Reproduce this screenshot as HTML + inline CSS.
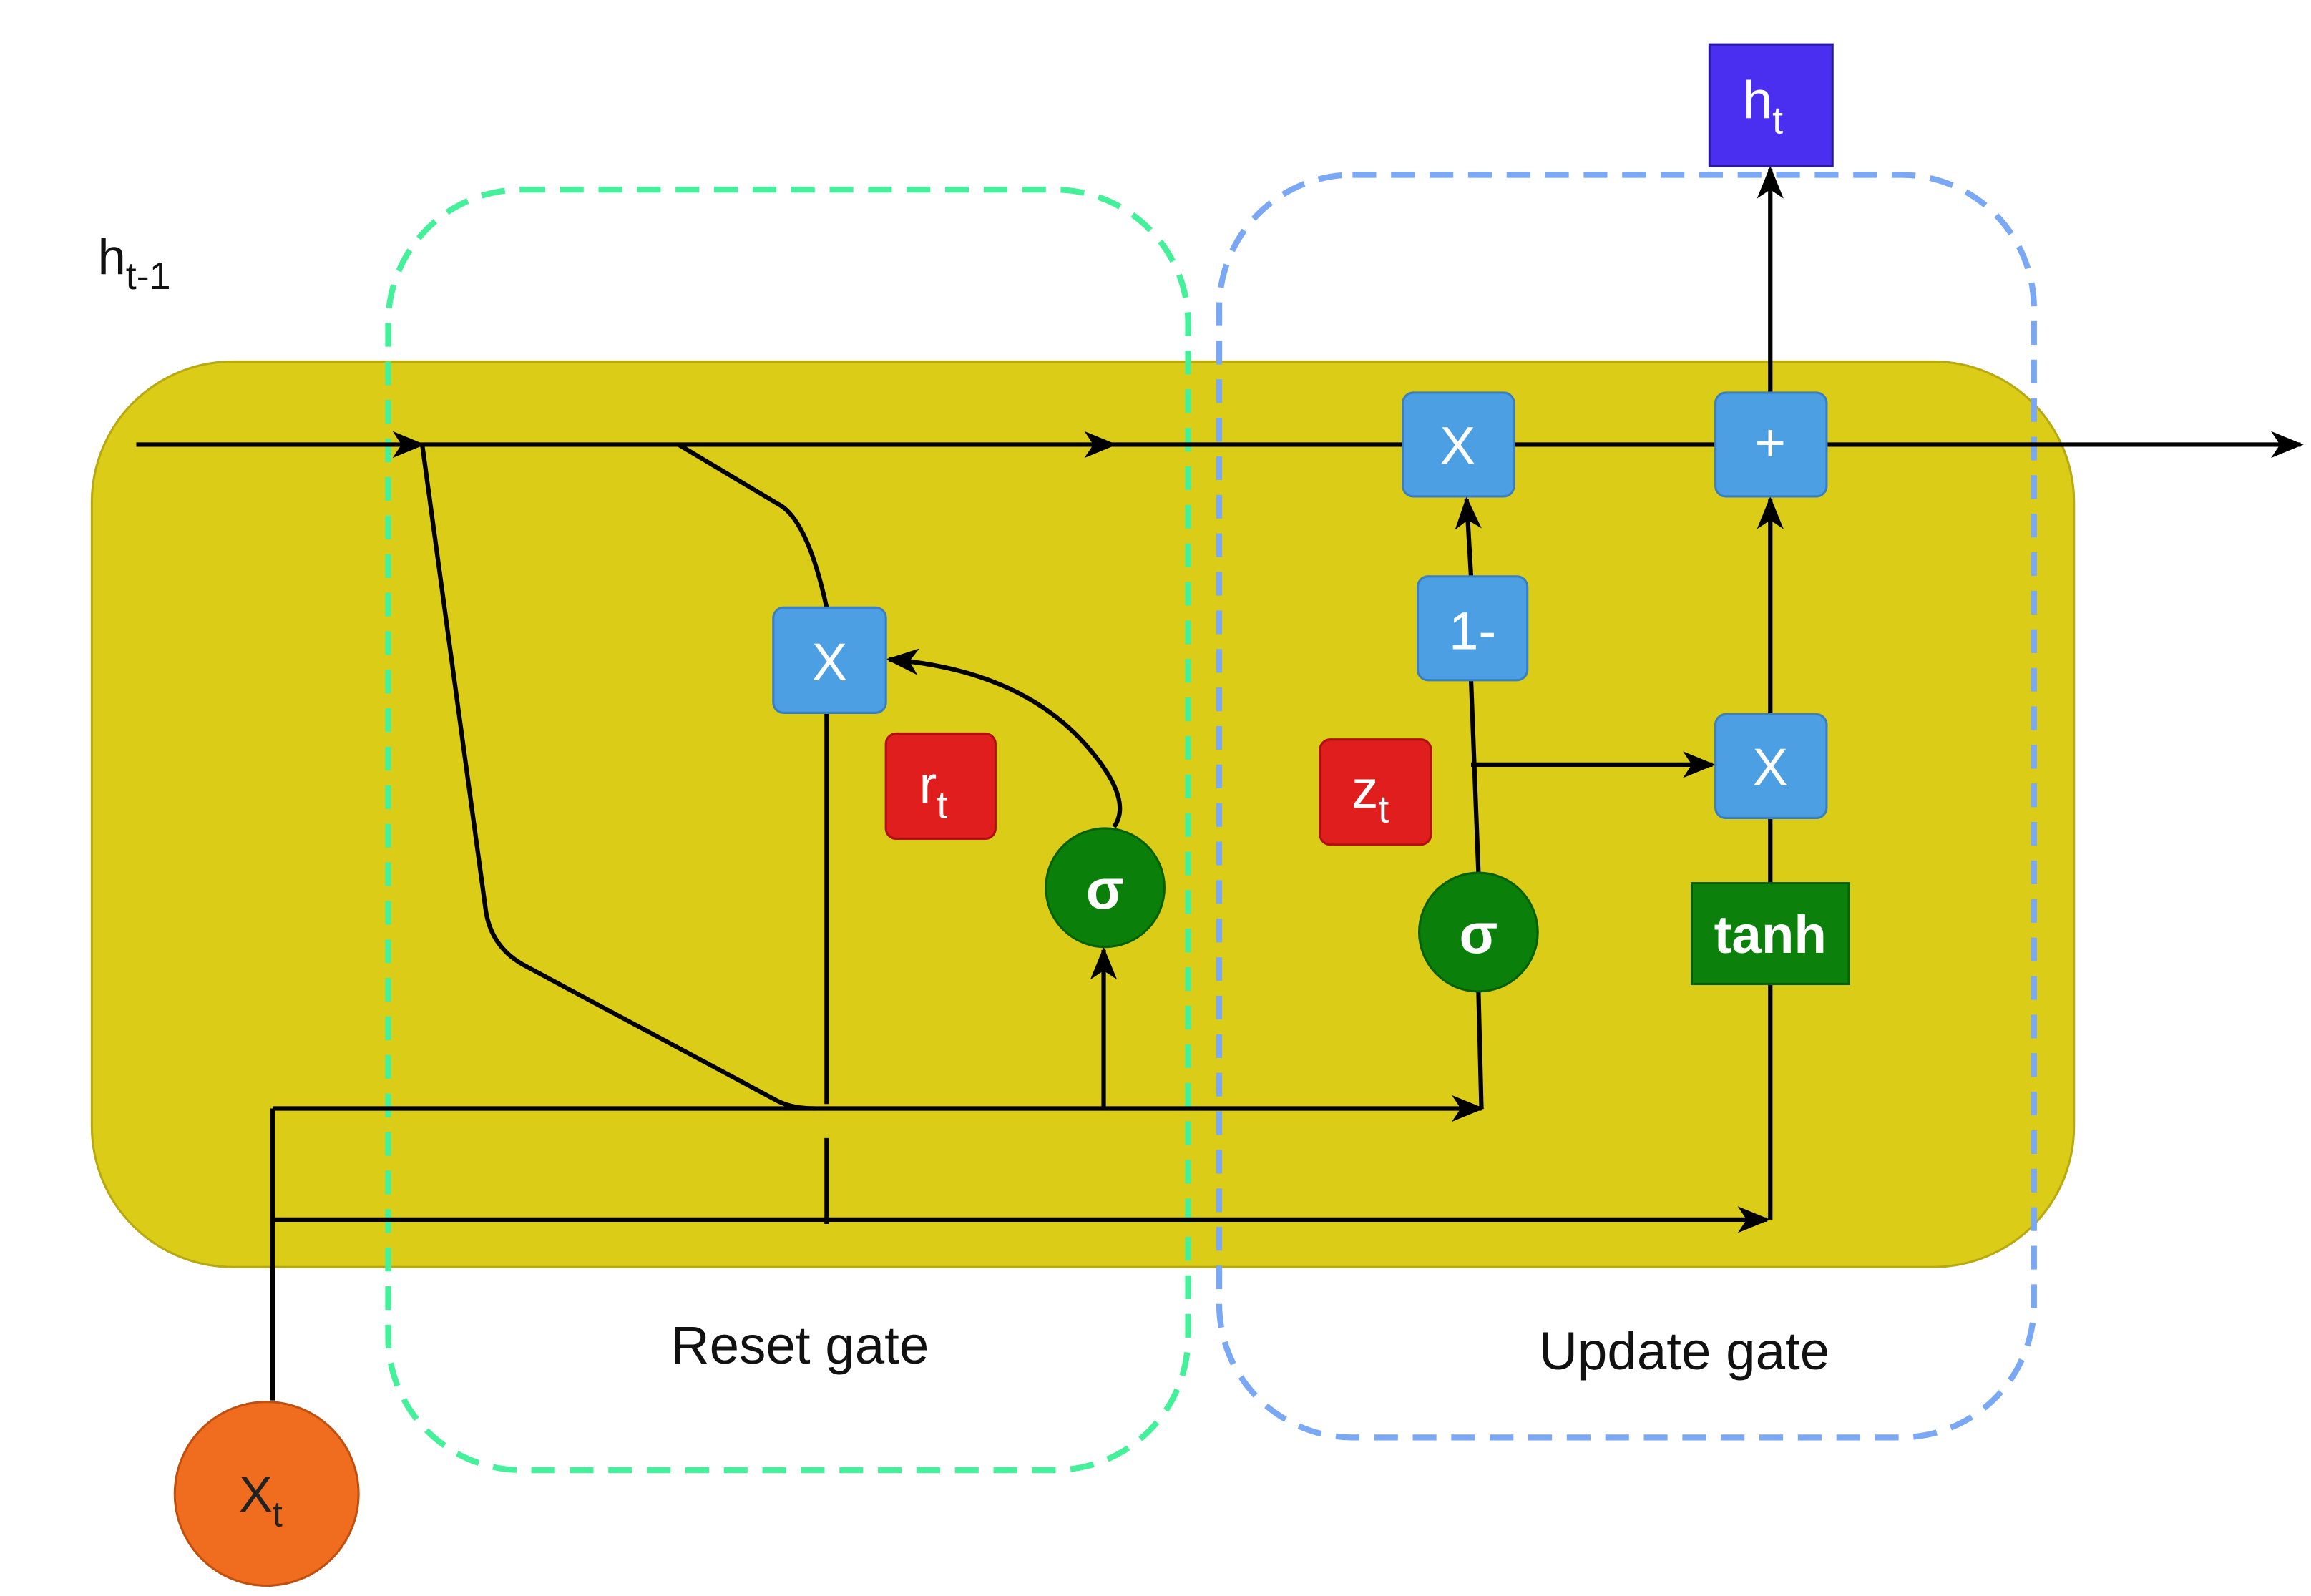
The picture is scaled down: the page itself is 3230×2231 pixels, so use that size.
<!DOCTYPE html>
<html><head><meta charset="utf-8"><style>html,body{margin:0;padding:0;background:#fff}svg{display:block}</style></head>
<body>
<svg width="3230" height="2231" viewBox="0 0 1560 1077" preserveAspectRatio="none" xmlns="http://www.w3.org/2000/svg" font-family="Liberation Sans, sans-serif">
<defs>
<marker id="a" markerWidth="10" markerHeight="10" refX="9" refY="5" orient="auto" markerUnits="userSpaceOnUse" viewBox="0 0 10 10">
<path d="M0,0 L10,5 L0,10 L3,5 z" fill="#000"/></marker>
<marker id="b" markerWidth="22" markerHeight="22" refX="20" refY="11" orient="auto" markerUnits="userSpaceOnUse" viewBox="0 0 22 22">
<path d="M0,2 L22,11 L0,20 L6,11 z" fill="#000"/></marker>
</defs>
<rect x="62" y="244" width="1338" height="611" rx="95" fill="#DBCC17" stroke="#b8a910" stroke-width="1.5"/>
<rect x="262" y="128" width="540" height="864" rx="90" fill="none" stroke="#44F09A" stroke-width="4" stroke-dasharray="16 10"/>
<rect x="823" y="118" width="550" height="852" rx="90" fill="none" stroke="#7AA8F5" stroke-width="4" stroke-dasharray="16 10"/>
<g stroke="#000" stroke-width="3" fill="none">
<line x1="92" y1="300" x2="285" y2="300" marker-end="url(#b)"/>
<line x1="285" y1="300" x2="752" y2="300" marker-end="url(#b)"/>
<line x1="752" y1="300" x2="1553" y2="300" marker-end="url(#b)"/>
<line x1="1195" y1="265" x2="1195" y2="114" marker-end="url(#b)"/>
<path d="M285,300 L328,615 Q332,640 355,652 L525,743 Q535,748 550,748"/>
<path d="M458,300 L525,340 Q545,350 558,410"/>
<line x1="184" y1="945" x2="184" y2="748"/>
<line x1="184" y1="748" x2="1000" y2="748" marker-end="url(#b)"/>
<line x1="1000" y1="748" x2="998" y2="669"/>
<line x1="184" y1="823" x2="1193" y2="823" marker-end="url(#b)"/>
<line x1="1195" y1="823" x2="1195" y2="664"/>
<line x1="1195" y1="596" x2="1195" y2="552"/>
<line x1="1195" y1="482" x2="1195" y2="337" marker-end="url(#b)"/>
<line x1="745" y1="748" x2="745" y2="641" marker-end="url(#b)"/>
<path d="M752,558 Q765,540 735,505 Q690,452 600,445" marker-end="url(#b)"/>
<line x1="558" y1="481" x2="558" y2="745"/>
<line x1="558" y1="768" x2="558" y2="826"/>
<line x1="993" y1="389" x2="990" y2="337" marker-end="url(#b)"/>
<line x1="998" y1="589" x2="993" y2="459"/>
<line x1="993" y1="516" x2="1156" y2="516" marker-end="url(#b)"/>
</g>
<g fill="#4C9FE3" stroke="#3a7fc0" stroke-width="1.5">
<rect x="947" y="265" width="75" height="70" rx="7"/>
<rect x="1158" y="265" width="75" height="70" rx="7"/>
<rect x="957" y="389" width="74" height="70" rx="7"/>
<rect x="1158" y="482" width="75" height="70" rx="7"/>
<rect x="522" y="410" width="76" height="71" rx="7"/>
</g>
<g fill="#E01E1E" stroke="#b01010" stroke-width="1.5">
<rect x="598" y="495" width="74" height="71" rx="7"/>
<rect x="891" y="499" width="75" height="71" rx="7"/>
</g>
<rect x="1154" y="30" width="83" height="82" fill="#4B2FF0" stroke="#2a1aa0" stroke-width="1.5"/>
<circle cx="746" cy="599" r="40" fill="#0A800A" stroke="#066006" stroke-width="1.5"/>
<circle cx="998" cy="629" r="40" fill="#0A800A" stroke="#066006" stroke-width="1.5"/>
<rect x="1142" y="596" width="106" height="68" fill="#0B800B" stroke="#066006" stroke-width="1.5"/>
<circle cx="180" cy="1008" r="62" fill="#F06C1E" stroke="#c05010" stroke-width="1.5"/>
<g fill="#fff" font-size="36" text-anchor="middle">
<text x="984" y="313">X</text>
<text x="1195" y="311">+</text>
<text x="994" y="438">1-</text>
<text x="1195" y="530">X</text>
<text x="560" y="459">X</text>
<text x="630" y="542">r<tspan font-size="26" dy="10">t</tspan></text>
<text x="925" y="545">z<tspan font-size="26" dy="10">t</tspan></text>
<text x="1190" y="80">h<tspan font-size="26" dy="10">t</tspan></text>
<text x="746" y="613" font-weight="bold" font-size="38">σ</text>
<text x="998" y="643" font-weight="bold" font-size="38">σ</text>
<text x="1195" y="643" font-weight="bold" font-size="36">tanh</text>
</g>
<text x="176" y="1020" font-size="34" fill="#222" text-anchor="middle">X<tspan font-size="24" dy="10">t</tspan></text>
<text x="66" y="185" font-size="34" fill="#111">h<tspan font-size="26" dy="10">t-1</tspan></text>
<text x="540" y="920" font-size="36" fill="#111" text-anchor="middle">Reset gate</text>
<text x="1137" y="924" font-size="36" fill="#111" text-anchor="middle">Update gate</text>
</svg>
</body></html>
